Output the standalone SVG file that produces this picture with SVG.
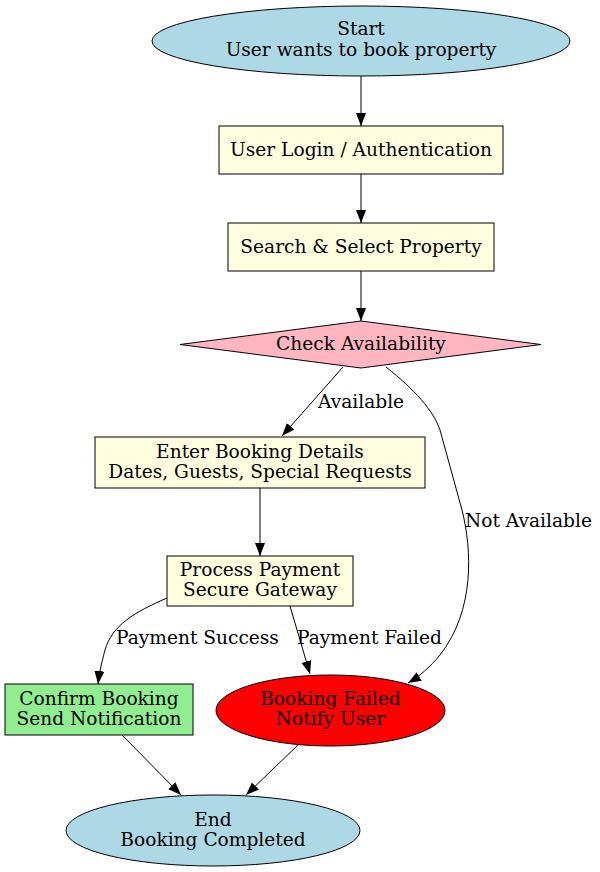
<svg xmlns="http://www.w3.org/2000/svg" width="600" height="872" viewBox="0 0 600 872">
<style>
text{font-family:"DejaVu Serif","Liberation Serif",serif;font-size:18.6px;fill:#000}
.c{text-anchor:middle}
.n{stroke:#000;stroke-width:1}
.e{fill:none;stroke:#000;stroke-width:1;marker-end:url(#ah)}
</style>
<defs>
<marker id="ah" markerUnits="userSpaceOnUse" markerWidth="14" markerHeight="11" refX="13" refY="5" orient="auto">
<path d="M0,0 L13,5 L0,10 z" fill="#000"/>
</marker>
</defs>
<rect width="600" height="872" fill="#fff"/>
<g id="start">
<ellipse class="n" cx="361" cy="41" rx="209" ry="35" fill="#ADD8E6"/>
<text class="c" x="361" y="35">Start</text>
<text class="c" x="361" y="56">User wants to book property</text>
</g>
<g id="login">
<rect class="n" x="219" y="126" width="284" height="48" fill="#FFFFE0"/>
<text class="c" x="361" y="156">User Login / Authentication</text>
</g>
<g id="search">
<rect class="n" x="228" y="223" width="266" height="48" fill="#FFFFE0"/>
<text class="c" x="361" y="253">Search &amp; Select Property</text>
</g>
<g id="check">
<polygon class="n" points="361,321 541,344.5 361,368 180,344.5" fill="#FFB6C1"/>
<text class="c" x="361" y="350">Check Availability</text>
</g>
<g id="enter">
<rect class="n" x="95" y="437" width="330" height="51" fill="#FFFFE0"/>
<text class="c" x="260" y="458">Enter Booking Details</text>
<text class="c" x="260" y="478">Dates, Guests, Special Requests</text>
</g>
<g id="payment">
<rect class="n" x="167" y="556" width="186" height="50" fill="#FFFFE0"/>
<text class="c" x="260" y="576">Process Payment</text>
<text class="c" x="260" y="596">Secure Gateway</text>
</g>
<g id="confirm">
<rect class="n" x="5" y="684" width="188" height="51" fill="#90EE90"/>
<text class="c" x="99" y="705">Confirm Booking</text>
<text class="c" x="99" y="725">Send Notification</text>
</g>
<g id="failed">
<ellipse class="n" cx="330.5" cy="710.5" rx="114.5" ry="35.5" fill="#FF0000"/>
<text class="c" x="330.5" y="705">Booking Failed</text>
<text class="c" x="330.5" y="725">Notify User</text>
</g>
<g id="end">
<ellipse class="n" cx="213" cy="830.5" rx="147" ry="35.5" fill="#ADD8E6"/>
<text class="c" x="213" y="826">End</text>
<text class="c" x="213" y="846">Booking Completed</text>
</g>
<g id="edges">
<path class="e" d="M361,76 L361,126"/>
<path class="e" d="M361,174 L361,223"/>
<path class="e" d="M361,271 L361,321"/>
<path class="e" d="M343,367 L282,436"/>
<path class="e" d="M386,367 C415,390 433,410 440,430 L462,510 C472,550 475,610 440,655 C430,667 420,676 408,683"/>
<path class="e" d="M260,488 L260,556"/>
<path class="e" d="M167,598 C135,612 112,625 105,650 C101,665 99,675 98,684"/>
<path class="e" d="M290,606 L310,674"/>
<path class="e" d="M122,735 L181,795"/>
<path class="e" d="M298,745 L246,795"/>
<text x="318" y="408">Available</text>
<text x="465" y="527">Not Available</text>
<text x="116" y="644">Payment Success</text>
<text x="297" y="644">Payment Failed</text>
</g>
</svg>
